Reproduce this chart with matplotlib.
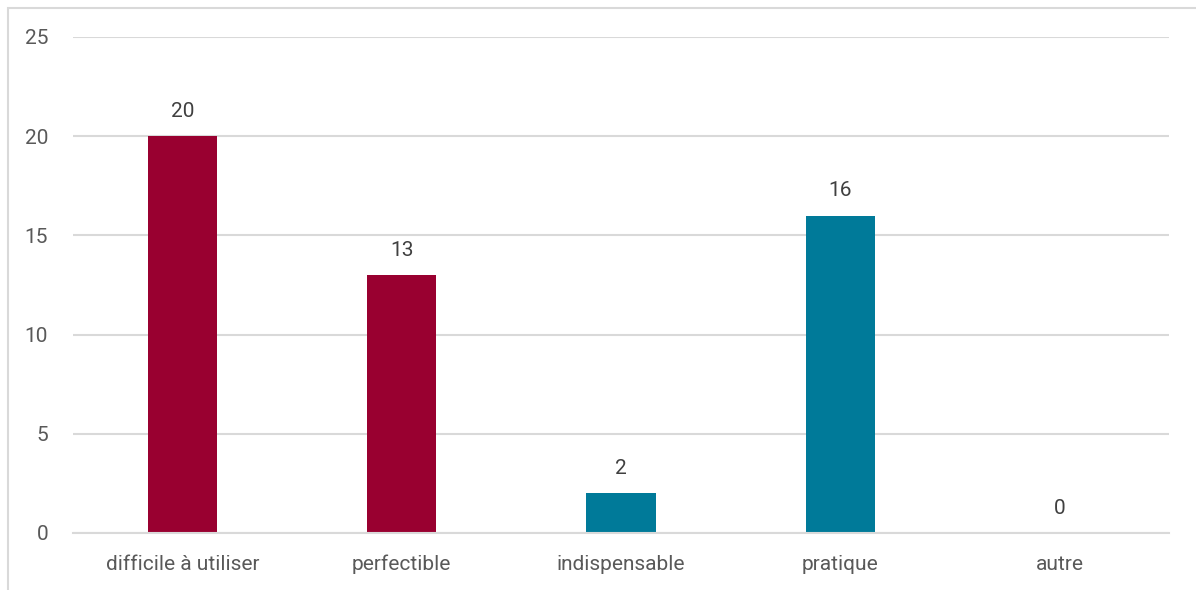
import matplotlib
matplotlib.use("Agg")
import matplotlib.pyplot as plt
from matplotlib.patches import Rectangle

categories = ["difficile à utiliser", "perfectible", "indispensable", "pratique", "autre"]
values = [20, 13, 2, 16, 0]
colors = ["#990030", "#990030", "#007A99", "#007A99", "#007A99"]
yticks = [0, 5, 10, 15, 20, 25]

plt.rcParams['font.family'] = ['Roboto', 'DejaVu Sans']
W, H = 1196, 590
fig = plt.figure(figsize=(W/100, H/100), dpi=100)
fig.patch.set_facecolor("white")
# chart frame (partially visible)
fig.add_artist(Rectangle((8/W, -0.1), 1.2, (H-8)/H + 0.1, transform=fig.transFigure,
                         fill=False, edgecolor="#D9D9D9", linewidth=1.5))

ax = fig.add_axes([73/W, (H-533)/H, (1169-73)/W, (533-37)/H])
x = range(len(categories))
bars = ax.bar(x, values, width=0.315, color=colors, zorder=2)
ax.set_xlim(-0.5, len(categories)-0.5)
ax.set_ylim(0, 25)
ax.set_yticks(yticks)
ax.yaxis.grid(True, color="#D9D9D9", linewidth=1.5, zorder=0)
ax.set_axisbelow(True)
for s in ["top", "right", "left"]:
    ax.spines[s].set_visible(False)
ax.spines["bottom"].set_color("#D9D9D9")
ax.spines["bottom"].set_linewidth(1.5)
ax.tick_params(axis="both", length=0, labelsize=15, labelcolor="#595959")
ax.tick_params(axis="y", pad=18)
ax.tick_params(axis="x", pad=27)
ax.set_xticks(list(x))
ax.set_xticklabels(categories, va="baseline")
for b, v in zip(bars, values):
    ax.annotate(str(v), (b.get_x() + b.get_width()/2, v), xytext=(0, 11),
                textcoords="offset points", ha="center", va="bottom",
                fontsize=15, color="#404040")
fig.savefig("out.png", dpi=100)
